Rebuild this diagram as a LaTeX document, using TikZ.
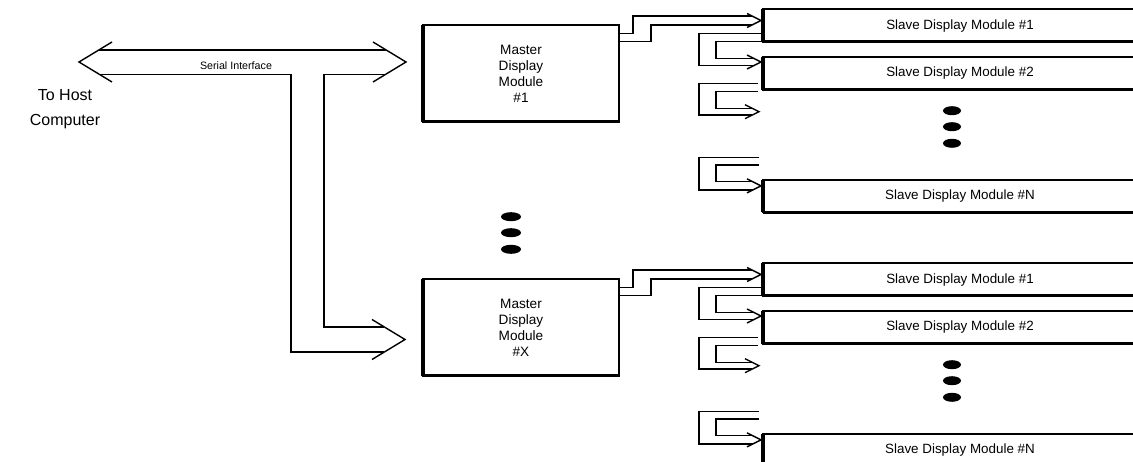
\documentclass[tikz,border=0pt]{standalone}
\usepackage{fontspec}
\setmainfont{Liberation Sans}
\begin{document}
\begin{tikzpicture}[x=1pt,y=-1pt,
  ln/.style={line width=1.4pt, line join=miter},
  boxbase/.style={draw, line width=2pt, outer sep=0pt, inner sep=0pt},
  masterbox/.style={boxbase, minimum width=196pt, minimum height=97pt, align=center, font=\fontsize{13.6}{16}\selectfont},
  slavebox/.style={boxbase, minimum width=394pt, minimum height=32.5pt, font=\fontsize{13.4}{16}\selectfont},
  thickleft/.style={line width=4.5pt},
  thickbottom/.style={line width=3pt},
  dotmark/.style={fill=black}]
\useasboundingbox (0,0) rectangle (1133,462);
\clip (0,0) rectangle (1133,462);

% host label and serial interface bus
\node[font=\fontsize{16}{24.5}\selectfont, align=center] (host) at (65,109) {To Host\\Computer};
\node[font=\fontsize{10.7}{12}\selectfont] (serial) at (236,65.7) {Serial Interface};
\draw[ln] (99.2,50) -- (385.8,50);
\draw[ln] (99.2,74.5) -- (291,74.5) -- (291,352) -- (384.4,352);
\draw[ln] (385.8,74.5) -- (324,74.5) -- (324,327) -- (384.4,327);
\draw[ln] (112,42) -- (79,62) -- (112,82);
\draw[ln] (373,42) -- (406,62) -- (373,82);
\draw[ln] (372,319.5) -- (405,339.5) -- (372,359.5);

% dots between masters
\foreach \yy in {216.7,232.7,249.3}
  \fill[dotmark] (511,\yy) ellipse [x radius=10pt, y radius=4.5pt];

\foreach \g/\off/\lab in {a/0/1, b/254/X}{
\begin{scope}[shift={(0,\off)}]
  \node[masterbox] (m\g) at (521,73.5) {Master\\Display\\Module\\\#\lab};
  \draw[thickleft] (m\g.north west) -- (m\g.south west);
  \draw[thickbottom] (m\g.south west) -- (m\g.south east);

  \node[slavebox] (s1\g) at (960,25.6) {Slave Display Module \#1};
  \node[slavebox] (s2\g) at (960,73.3) {Slave Display Module \#2};
  \node[slavebox] (sn\g) at (960,196.2) {Slave Display Module \#N};
  \foreach \s in {s1,s2,sn}{
    \draw[thickleft] (\s\g.north west) -- (\s\g.south west);
    \draw[thickbottom] (\s\g.south west) -- (\s\g.south east);
  }

  % master -> slave 1
  \draw[ln] (m\g.east |- 0,33.3) -- (633,33.3) -- (633,16) -- (752,16);
  \draw[ln] (m\g.east |- 0,41.7) -- (651,41.7) -- (651,25) -- (752,25);
  \draw[ln] (747,13.5) -- (761,20.5) -- (747,27.5);

  % slave 1 -> slave 2
  \draw[ln] (s1\g.west |- 0,33.3) -- (699,33.3) -- (699,65.7) -- (753.6,65.7);
  \draw[ln] (s1\g.west |- 0,41.7) -- (716,41.7) -- (716,58.3) -- (753.6,58.3);
  \draw[ln] (747,55) -- (761,62) -- (747,69);

  % slave 2 -> (more)
  \coordinate (o2\g) at (758,83.3);
  \coordinate (i2\g) at (758,91.7);
  \draw[ln] (o2\g) -- (699,83.3) -- (699,115) -- (752.3,115);
  \draw[ln] (i2\g) -- (716,91.7) -- (716,108.3) -- (752.3,108.3);
  \draw[ln] (745,104.7) -- (759,111.7) -- (745,118.7);

  % (more) -> slave N
  \coordinate (on\g) at (759,157.3);
  \coordinate (in\g) at (759,165);
  \draw[ln] (on\g) -- (699,157.3) -- (699,190) -- (752.7,190);
  \draw[ln] (in\g) -- (716,165) -- (716,181.7) -- (752.7,181.7);
  \draw[ln] (747,178.85) -- (761,185.85) -- (747,192.85);

  % dots between slaves
  \foreach \yy in {110.7,126.7,143.3}
    \fill[dotmark] (952,\yy) ellipse [x radius=9pt, y radius=4.5pt];
\end{scope}
}
\end{tikzpicture}
\end{document}
